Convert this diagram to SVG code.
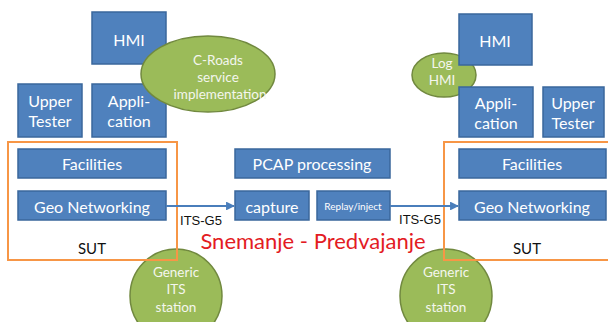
<svg xmlns="http://www.w3.org/2000/svg" width="608" height="322" viewBox="0 0 608 322">
  <defs>
    <marker id="arrow" viewBox="0 0 10 10" refX="9" refY="5" markerWidth="4" markerHeight="4" orient="auto" markerUnits="strokeWidth">
      <path d="M0,0 L10,5 L0,10 z" fill="#4a7ebb"/>
    </marker>
    <style>
      .box { fill: #4f81bd; stroke: #3a679c; stroke-width: 1.5; }
      .oval { fill: #9bbb59; stroke: #71893f; stroke-width: 1.5; }
      .sut { fill: none; stroke: #f79646; stroke-width: 2; }
      .t { font-family: Lato, "Open Sans", sans-serif; fill: #ffffff; text-anchor: middle; dominant-baseline: central; }
      .b { font-size: 16px; }
      .o { font-size: 13.5px; fill: #f4f6ee; }
      .dark { fill: #111111; font-size: 15px; }
      .lbl { font-family: "Liberation Sans", Arial, sans-serif; font-size: 13px; fill: #111111; text-anchor: middle; dominant-baseline: central; }
      .link { stroke: #4a7ebb; stroke-width: 2.2; fill: none; marker-end: url(#arrow); }
    </style>
  </defs>

  <rect width="608" height="322" fill="#ffffff"/>

  <!-- left station -->
  <g id="hmi-left">
    <rect class="box" x="92" y="12" width="74" height="52"/>
    <text class="t b" x="129" y="39">HMI</text>
  </g>
  <g id="upper-tester-left">
    <rect class="box" x="18" y="84" width="64" height="53"/>
    <text class="t b" x="50" y="100">Upper</text>
    <text class="t b" x="50" y="120">Tester</text>
  </g>
  <g id="application-left">
    <rect class="box" x="92" y="84" width="74" height="53"/>
    <text class="t b" x="129" y="100">Appli-</text>
    <text class="t b" x="129" y="120">cation</text>
  </g>
  <g id="c-roads">
    <ellipse class="oval" cx="208" cy="74" rx="67" ry="38"/>
    <text class="t o" x="218" y="60">C-Roads</text>
    <text class="t o" x="218" y="77">service</text>
    <text class="t o" x="220" y="94">implementation</text>
  </g>
  <g id="generic-its-left">
    <ellipse class="oval" cx="176" cy="296" rx="46" ry="47"/>
    <text class="t o" x="176" y="272">Generic</text>
    <text class="t o" x="176" y="289">ITS</text>
    <text class="t o" x="176" y="307">station</text>
  </g>
  <g id="sut-left">
    <rect class="sut" x="8" y="142" width="169" height="118"/>
    <text class="t dark" x="92" y="248">SUT</text>
  </g>
  <g id="facilities-left">
    <rect class="box" x="18" y="149" width="148" height="29"/>
    <text class="t b" x="92" y="163">Facilities</text>
  </g>
  <g id="geonet-left">
    <rect class="box" x="18" y="191" width="148" height="29"/>
    <text class="t b" x="92" y="206">Geo Networking</text>
  </g>

  <!-- PCAP tool -->
  <g id="pcap">
    <rect class="box" x="235" y="149" width="155" height="29"/>
    <text class="t b" x="312" y="163">PCAP processing</text>
  </g>
  <g id="capture">
    <rect class="box" x="235" y="191" width="74" height="29"/>
    <text class="t b" x="272" y="206">capture</text>
  </g>
  <g id="replay">
    <rect class="box" x="317" y="191" width="73" height="29"/>
    <text class="t" x="353" y="206" font-size="10">Replay/inject</text>
  </g>

  <!-- right station -->
  <g id="log-hmi">
    <ellipse class="oval" cx="444" cy="75" rx="32" ry="22"/>
    <text class="t o" x="442" y="63">Log</text>
    <text class="t o" x="442" y="80">HMI</text>
  </g>
  <g id="hmi-right">
    <rect class="box" x="459" y="14" width="73" height="51"/>
    <text class="t b" x="495" y="40">HMI</text>
  </g>
  <g id="application-right">
    <rect class="box" x="459" y="87" width="74" height="50"/>
    <text class="t b" x="496" y="102">Appli-</text>
    <text class="t b" x="496" y="122">cation</text>
  </g>
  <g id="upper-tester-right">
    <rect class="box" x="543" y="87" width="61" height="50"/>
    <text class="t b" x="573" y="102">Upper</text>
    <text class="t b" x="573" y="122">Tester</text>
  </g>
  <g id="generic-its-right">
    <ellipse class="oval" cx="446" cy="296" rx="46" ry="47"/>
    <text class="t o" x="446" y="272">Generic</text>
    <text class="t o" x="446" y="289">ITS</text>
    <text class="t o" x="446" y="307">station</text>
  </g>
  <g id="sut-right">
    <rect class="sut" x="444" y="142" width="170" height="118"/>
    <text class="t dark" x="527" y="248">SUT</text>
  </g>
  <g id="facilities-right">
    <rect class="box" x="459" y="149" width="147" height="29"/>
    <text class="t b" x="532" y="163">Facilities</text>
  </g>
  <g id="geonet-right">
    <rect class="box" x="459" y="191" width="147" height="29"/>
    <text class="t b" x="532" y="206">Geo Networking</text>
  </g>

  <!-- links -->
  <g id="connectors">
    <line class="link" x1="166" y1="206" x2="234" y2="206"/>
    <line class="link" x1="390" y1="206" x2="458" y2="206"/>
    <text class="lbl" x="201" y="220">ITS-G5</text>
    <text class="lbl" x="420" y="219">ITS-G5</text>
  </g>

  <text x="313" y="240" font-family="Lato, 'Open Sans', sans-serif" font-size="22" fill="#e31b23" text-anchor="middle" dominant-baseline="central">Snemanje - Predvajanje</text>
</svg>
